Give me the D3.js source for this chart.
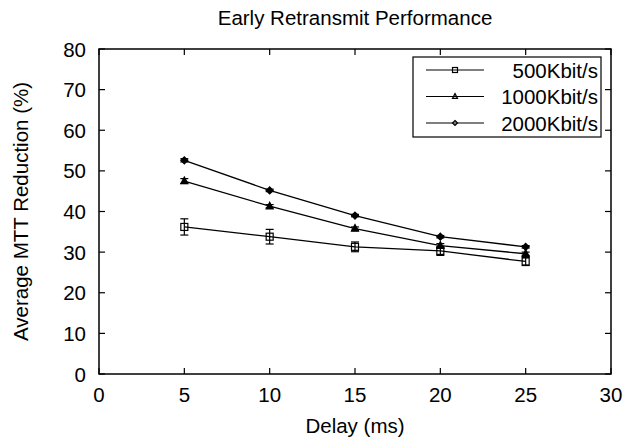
<!DOCTYPE html>
<html><head><meta charset="utf-8">
<script src="https://cdn.jsdelivr.net/npm/d3@7"></script>
<style>body{margin:0;background:#fff}text{font-family:"Liberation Sans",Arial,sans-serif;fill:#000}</style>
</head><body><svg id="c" width="636" height="440"></svg>
<script>
const delays = [5, 10, 15, 20, 25];
const seriesNames = ["500Kbit/s", "1000Kbit/s", "2000Kbit/s"];
const values500 = [36.2, 33.8, 31.3, 30.3, 27.7];
const err500 = [2.0, 1.8, 1.2, 1.1, 1.0];
const values1000 = [47.5, 41.3, 35.8, 31.6, 29.6];
const err1000 = [0.6, 0.4, 0.4, 0.5, 0.4];
const values2000 = [52.6, 45.2, 39.0, 33.8, 31.3];
const err2000 = [0.4, 0.3, 0.3, 0.3, 0.3];
const markers = ["square", "triangle", "diamond"];
const xTicks = [0, 5, 10, 15, 20, 25, 30];
const yTicks = [0, 10, 20, 30, 40, 50, 60, 70, 80];

const series = [
  {name: seriesNames[0], v: values500, e: err500, m: markers[0]},
  {name: seriesNames[1], v: values1000, e: err1000, m: markers[1]},
  {name: seriesNames[2], v: values2000, e: err2000, m: markers[2]}
];

const svg = d3.select("#c");
const L = 99, R = 611, T = 49, B = 374;
const FS = 20.5;
const x = d3.scaleLinear().domain([0, 30]).range([L, R]);
const y = d3.scaleLinear().domain([0, 80]).range([B, T]);

function marker(g, type, cx, cy, s, filled) {
  if (type === "square") {
    g.append("rect").attr("x", cx - s/2).attr("y", cy - s/2).attr("width", s).attr("height", s)
      .attr("fill", "none").attr("stroke", "#000").attr("stroke-width", 1.2);
  } else if (type === "triangle") {
    const h = s * 0.95;
    g.append("path").attr("d", `M${cx},${cy - h*0.6}L${cx + s/2},${cy + h*0.4}L${cx - s/2},${cy + h*0.4}Z`)
      .attr("fill", filled ? "#000" : "none").attr("stroke", "#000").attr("stroke-width", 1.2);
  } else {
    g.append("path").attr("d", `M${cx},${cy - s/2}L${cx + s/2},${cy}L${cx},${cy + s/2}L${cx - s/2},${cy}Z`)
      .attr("fill", filled ? "#000" : "none").attr("stroke", "#000").attr("stroke-width", 1.2);
  }
}

// ticks (inward, mirrored)
const tk = svg.append("g").attr("stroke", "#000").attr("stroke-width", 1.2);
xTicks.forEach(t => {
  tk.append("line").attr("x1", x(t)).attr("x2", x(t)).attr("y1", B).attr("y2", B - 6);
  tk.append("line").attr("x1", x(t)).attr("x2", x(t)).attr("y1", T).attr("y2", T + 6);
});
yTicks.forEach(t => {
  tk.append("line").attr("x1", L).attr("x2", L + 6).attr("y1", y(t)).attr("y2", y(t));
  tk.append("line").attr("x1", R).attr("x2", R - 6).attr("y1", y(t)).attr("y2", y(t));
});

// tick labels
svg.append("g").selectAll("text").data(xTicks).join("text")
  .attr("x", d => x(d)).attr("y", 402).attr("text-anchor", "middle").attr("font-size", FS).text(d => d);
svg.append("g").selectAll("text").data(yTicks).join("text")
  .attr("x", 86).attr("y", d => y(d) + 7.5).attr("text-anchor", "end").attr("font-size", FS).text(d => d);

// titles
svg.append("text").attr("x", (L + R) / 2).attr("y", 25).attr("text-anchor", "middle").attr("font-size", FS).text("Early Retransmit Performance");
svg.append("text").attr("x", (L + R) / 2).attr("y", 433).attr("text-anchor", "middle").attr("font-size", FS).text("Delay (ms)");
svg.append("text").attr("transform", `translate(28,${(T + B) / 2}) rotate(-90)`).attr("text-anchor", "middle").attr("font-size", FS).text("Average MTT Reduction (%)");

// series
const line = d3.line().x((d, i) => x(delays[i])).y(d => y(d));
series.forEach(s => {
  const g = svg.append("g");
  g.append("path").attr("d", line(s.v)).attr("fill", "none").attr("stroke", "#000").attr("stroke-width", 1.3);
  s.v.forEach((v, i) => {
    const cx = x(delays[i]);
    g.append("line").attr("x1", cx).attr("x2", cx).attr("y1", y(v - s.e[i])).attr("y2", y(v + s.e[i])).attr("stroke", "#000").attr("stroke-width", 1.2);
    [v - s.e[i], v + s.e[i]].forEach(e => g.append("line").attr("x1", cx - 4).attr("x2", cx + 4).attr("y1", y(e)).attr("y2", y(e)).attr("stroke", "#000").attr("stroke-width", 1.2));
    marker(g, s.m, cx, y(v), 7, true);
  });
});

// legend
const lg = svg.append("g");
lg.append("rect").attr("x", 413).attr("y", 57).attr("width", 188).attr("height", 80).attr("fill", "#fff").attr("stroke", "#000").attr("stroke-width", 1.2);
series.forEach((s, i) => {
  const ly = 70 + i * 26.5;
  lg.append("line").attr("x1", 426).attr("x2", 484).attr("y1", ly).attr("y2", ly).attr("stroke", "#000").attr("stroke-width", 1.2);
  marker(lg, s.m, 455, ly, 5, false);
  lg.append("text").attr("x", 598).attr("y", ly + 7.5).attr("text-anchor", "end").attr("font-size", FS).text(s.name);
});

// border
svg.append("rect").attr("x", L).attr("y", T).attr("width", R - L).attr("height", B - T).attr("fill", "none").attr("stroke", "#000").attr("stroke-width", 1.5);
</script></body></html>
